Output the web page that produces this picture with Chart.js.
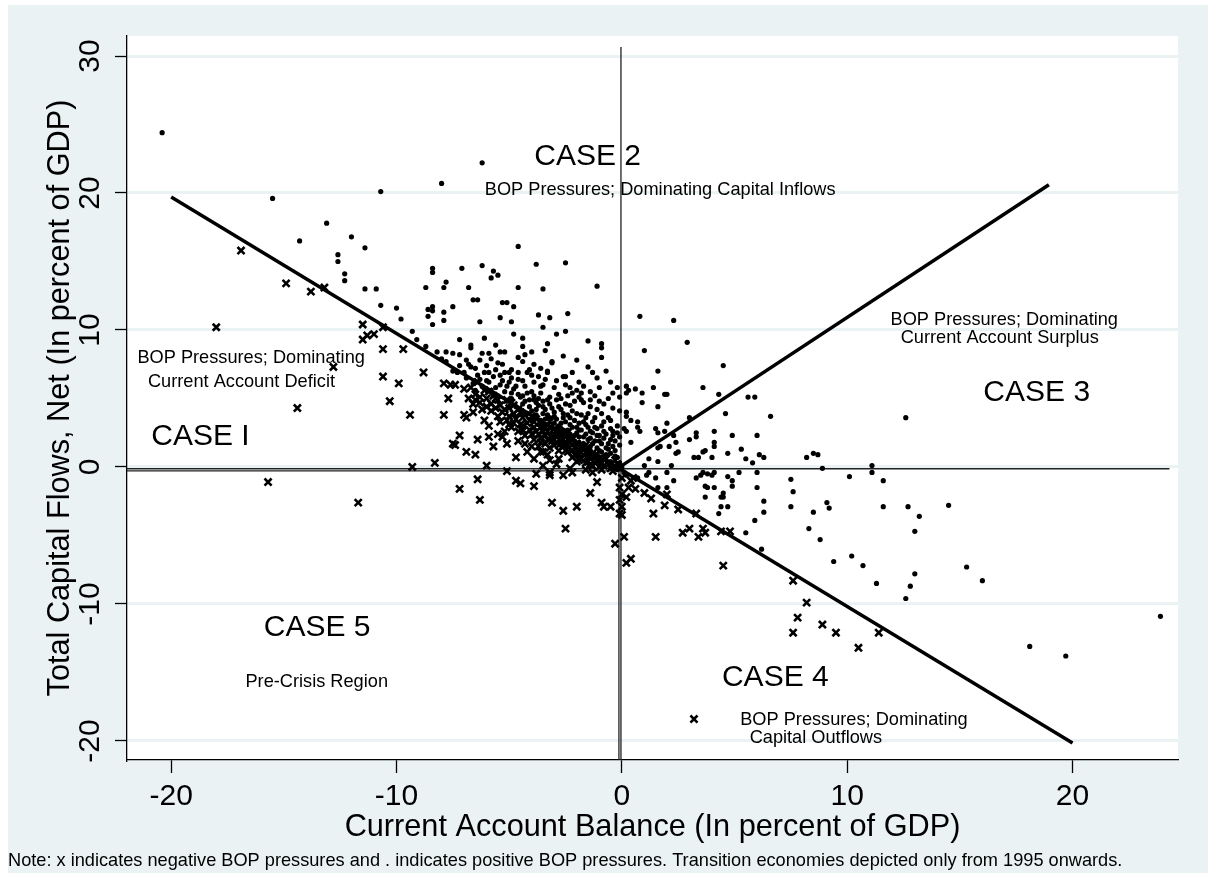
<!DOCTYPE html>
<html>
<head>
<meta charset="utf-8">
<script src="https://cdn.jsdelivr.net/npm/chart.js@4/dist/chart.umd.min.js"></script>
<style>
  html, body { margin: 0; padding: 0; background: #ffffff; }
  canvas { display: block; }
</style>
</head>
<body>
<canvas id="bop" width="1208" height="873"></canvas>
<script>
// Axis ticks
const xTicks = [-20, -10, 0, 10, 20];
const yTicks = [-20, -10, 0, 10, 20, 30];

// Observations with positive BOP pressures: [current account, capital flows], % of GDP
const positivePressure = [
  [-20.4,24.4],[-15.5,19.6],[-10.7,20.1],[-14.3,16.5],[-13.1,17.8],[-12.0,16.8],[-11.4,16.0],[-12.6,15.5],
  [-12.6,15.0],[-12.3,14.1],[-12.3,13.6],[-11.4,13.0],[-10.9,13.0],[-10.7,11.8],[-10.0,11.6],[-9.8,10.8],
  [-8.0,20.7],[-6.2,22.2],[-4.6,16.1],[-8.4,14.5],[-8.4,14.2],[-7.1,14.5],[-6.2,14.7],[-5.7,14.3],
  [-5.5,14.0],[-5.8,13.8],[-3.8,14.8],[-2.5,14.9],[-8.7,13.1],[-7.8,13.5],[-7.9,13.1],[-6.8,13.1],
  [-4.6,13.1],[-3.5,13.0],[-1.1,13.2],[-6.6,12.2],[-6.4,12.2],
  [-8.6,11.5],[-8.4,11.7],[-8.4,11.4],[-7.9,11.3],[-7.5,11.7],[-8.6,11.0],[-8.4,10.4],[-7.9,10.7],
  [-5.3,12.0],[-5.1,12.0],[-4.8,11.7],[-6.3,10.6],[-5.4,10.9],[-4.9,10.6],[-3.7,11.1],[-3.2,10.9],
  [-2.4,11.2],[-3.5,10.2],[-2.9,9.7],[-2.5,9.9],
  [-9.3,9.9],[-9.1,9.3],[-8.7,8.8],[-8.2,8.4],[-7.8,8.4],[-7.5,8.3],[-7.2,8.2],[-7.2,9.3],[-6.7,8.9],
  [-6.7,8.7],[-6.1,9.4],[-6.2,8.3],[-5.9,8.3],[-5.6,8.9],[-5.4,8.4],[-5.2,8.4],[-4.8,9.7],[-4.4,9.4],
  [-4.4,8.8],[-4.6,8.0],[-4.3,8.2],[-4.0,8.4],[-4.4,7.7],[-3.4,8.5],[-3.3,9.0],[-3.1,7.7],[-3.3,7.0],
  [-2.6,8.1],[-6.8,7.5],[-6.7,7.3],[-6.0,7.4],[-5.9,6.9],[-5.6,7.1],[-5.3,7.5],[-5.0,6.9],[-4.9,7.1],
  [-1.5,9.2],[-0.9,9.0],[-0.9,8.7],[-0.9,8.0],[-0.7,7.0],[-1.3,6.9],[-2.2,6.9],[-2.5,6.6],[-1.9,6.2],
  [-4.0,6.7],[-3.7,6.6],[-3.5,6.0],[-3.3,6.9],[-3.1,7.6],[-2.6,6.6],[-2.5,6.0],[-2.0,5.6],[-2.2,5.4],
  [-1.9,5.1],[-1.7,4.7],[-1.4,4.4],[-1.1,4.2],[-0.9,3.9],[-1.2,3.6],[-0.8,3.3],[-0.5,3.4],[-0.4,2.6],
  [-0.5,2.0],[-0.7,1.4],[-1.1,2.3],[-1.4,2.6],[-1.6,3.1],[-2.0,2.9],[-2.3,3.6],[-2.7,4.2],[-2.9,4.9],
  [-3.2,5.1],[-3.6,5.4],[-3.9,4.9],[-3.8,4.2],[-3.3,3.8],[-3.0,3.2],[-2.6,2.7],[-2.2,2.1],[-1.9,1.8],
  [-1.4,1.5],[-1.1,0.9],[-0.9,0.5],[-0.5,0.4],[-0.3,0.0],[-0.2,-0.2],[0.0,0.0],[0.1,-0.4],[0.2,-0.6],
  [-0.4,4.3],[-0.1,4.1],
  [-6.9,6.5],[-6.6,6.1],[-6.4,6.7],[-6.2,5.9],[-6.0,6.3],[-5.8,5.6],[-5.7,6.6],[-5.5,5.2],[-5.4,6.0],
  [-5.2,5.5],[-5.1,4.8],[-5.0,6.2],[-4.9,5.0],[-4.8,5.7],[-4.7,4.4],[-4.6,6.4],[-4.5,5.1],[-4.4,4.6],
  [-4.3,5.9],[-4.2,3.9],[-4.1,4.9],[-4.0,5.5],[-3.9,3.6],[-3.8,4.7],[-3.7,3.1],[-3.6,5.9],[-3.5,4.4],
  [-3.4,2.8],[-3.4,3.5],[-3.3,4.9],[-3.2,2.4],[-3.1,4.3],[-3.0,3.7],[-2.9,2.2],[-2.8,5.3],[-2.8,3.0],
  [-2.7,1.9],[-2.6,3.6],[-2.5,4.6],[-2.5,2.5],[-2.4,1.5],[-2.3,3.1],[-2.2,4.1],[-2.1,2.3],[-2.0,1.3],
  [-2.0,3.9],[-1.9,2.7],[-1.8,4.9],[-1.8,1.2],[-1.7,2.2],[-1.6,3.6],[-1.5,1.0],[-1.5,2.0],[-1.4,5.5],
  [-1.3,1.7],[-1.2,2.9],[-1.2,0.8],[-1.0,1.9],[-1.0,4.8],[-0.9,1.1],[-0.8,2.6],[-0.6,1.7],[-0.6,5.0],
  [-0.5,1.0],[-0.4,2.3],[-0.3,1.2],[-0.2,3.0],[-0.2,0.7],[-0.1,1.6],[-0.1,2.2],
  [-7.8,7.7],[-7.5,7.0],[-7.2,7.4],[-7.0,6.9],[-8.0,7.9],[-6.3,7.8],[-5.8,7.9],[-5.5,7.6],[-4.1,7.1],
  [-3.9,7.5],[-3.6,7.2],[-2.9,6.3],[-2.3,5.8],[-1.7,5.9],[-1.0,5.8],[-0.5,6.2],[-1.5,7.3],[-2.0,7.8],
  [-1.1,6.5],
  [-5.6,5.8],[-5.3,6.3],[-5.1,5.9],[-4.9,5.4],[-4.7,5.9],[-4.6,5.3],[-4.4,5.2],[-4.3,4.8],[-4.2,5.4],
  [-4.1,4.4],[-4.0,4.1],[-3.9,5.2],[-3.8,3.8],[-3.7,4.5],[-3.7,5.0],[-3.6,3.4],[-3.5,3.9],[-3.5,4.8],
  [-3.4,4.2],[-3.3,3.1],[-3.2,3.6],[-3.2,4.6],[-3.1,2.9],[-3.0,4.0],[-2.9,3.5],[-2.9,2.6],[-2.8,4.4],
  [-2.7,3.2],[-2.7,2.8],[-2.6,3.9],[-2.6,2.3],[-2.5,3.3],[-2.4,2.7],[-2.4,3.8],[-2.3,2.4],[-2.3,4.5],
  [-2.2,2.9],[-2.1,3.4],[-2.1,1.9],[-2.0,2.5],[-1.9,3.2],[-1.9,2.2],[-1.8,2.7],[-1.8,3.8],[-1.7,1.7],
  [-1.7,3.3],[-1.6,2.4],[-1.6,1.3],[-1.5,2.9],[-1.5,3.9],[-1.4,2.1],[-1.4,1.2],[-1.3,2.5],[-1.3,3.3],
  [-1.2,1.9],[-1.1,1.4],[-1.1,2.8],[-1.0,2.3],[-1.0,1.2],[-0.9,1.7],[-0.9,3.0],[-0.8,2.1],[-0.8,0.8],
  [-0.7,2.4],[-0.7,0.9],[-0.6,1.3],[-0.6,3.6],[-0.5,2.8],[-0.4,1.5],[-0.3,1.9],[-0.3,0.8],[-0.2,2.5],
  [-0.1,0.3],[-6.5,5.6],[-6.3,6.4],[-6.1,6.9],[-5.9,6.2],[-5.7,5.2],[-5.4,6.7],[-5.2,6.9],[-4.9,6.5],
  [-4.6,6.9],[-4.4,6.3],[-4.2,6.9],[-3.9,6.2],[-3.4,6.4],[-3.0,5.8],[-2.7,5.0],[-2.4,5.2],[-2.1,4.8],
  [-1.8,5.4],[-1.4,4.9],[-1.2,5.2],[-0.8,4.6],[-0.4,5.4],[-7.3,6.9],[-6.9,7.8],[-6.5,7.2],
  [0.8,11.0],[2.3,10.7],[2.9,9.1],[1.0,8.5],[1.6,7.0],[4.5,7.4],[3.6,5.8],[4.3,5.3],[5.6,5.1],[5.9,5.1],
  [6.6,3.7],[4.6,3.9],[1.6,4.4],[2.0,5.3],[0.9,5.4],[0.6,5.7],[0.2,5.9],[-0.2,5.8],[-0.1,5.1],[0.3,5.6],
  [1.4,5.8],[1.9,5.3],[0.2,5.4],[0.9,4.7],[0.2,3.7],[0.2,4.0],[0.1,2.8],[0.2,2.6],[0.4,1.8],[0.7,3.3],
  [0.7,2.9],[0.8,2.6],[0.4,3.4],[1.6,2.5],[1.5,2.8],[2.0,3.2],[1.9,2.6],[1.7,1.5],[1.6,1.4],[2.1,1.5],
  [2.4,1.8],[2.3,2.3],[2.5,1.1],[2.4,1.0],[1.0,0.1],[1.2,0.6],[1.6,0.4],[2.2,0.1],[1.1,-0.6],[1.2,-0.4],
  [1.5,-0.8],[2.0,-0.4],[2.0,-1.5],[1.6,-1.5],[2.3,-1.0],[0.7,-0.8],[3.3,2.5],[3.0,2.0],[3.0,3.6],
  [4.1,2.6],[4.1,1.8],[3.7,1.2],[3.2,0.7],[3.4,0.7],[3.6,-0.4],[4.1,-0.4],[3.7,-1.4],[3.8,-1.5],
  [4.1,-1.5],[4.5,-1.9],[4.0,0.7],[4.4,-2.9],[4.7,-2.9],[4.3,-3.4],[4.5,-2.2],
  [3.3,2.2],[3.6,1.1],[4.1,1.5],[4.7,1.0],[4.9,2.3],[5.3,1.3],[5.5,0.6],[5.8,0.3],[6.0,2.3],[6.1,0.9],
  [6.3,0.7],[6.0,-0.4],[5.2,-0.4],[4.7,-0.7],[3.3,-0.8],[3.5,-0.6],[3.8,-0.5],[4.0,-0.6],[3.7,-2.2],
  [4.4,-2.2],[4.9,-1.4],[6.3,-2.5],[6.3,-3.3],[5.9,-3.9],[6.2,-6.0],[7.5,-0.9],[7.6,-1.8],[7.5,-2.9],
  [5.5,-4.8],[4.9,-1.0],[6.0,-1.5],
  [12.6,3.6],[8.2,0.7],[8.5,1.0],[8.7,0.9],[8.9,-0.1],[11.1,0.1],[11.1,-0.4],[10.1,-0.7],[11.6,-1.0],
  [9.1,-2.6],[9.2,-3.0],[8.5,-3.3],[8.3,-4.5],[8.8,-5.3],[11.6,-2.9],[12.7,-2.9],[13.2,-3.6],[14.5,-2.8],
  [13.0,-4.7],[9.4,-6.9],[10.2,-6.5],[10.7,-7.2],[11.3,-8.5],[13.0,-7.8],[12.8,-8.7],[15.3,-7.3],
  [16.0,-8.3],[12.6,-9.6],[23.9,-10.9],[18.1,-13.1],[19.7,-13.8]
];

// Observations with negative BOP pressures
const negativePressure = [
  [-16.9,15.8],[-14.9,13.4],[-13.8,12.8],[-13.2,13.1],[-18.0,10.2],[-11.5,10.4],[-11.5,9.3],[-11.3,9.6],
  [-11.0,9.7],[-10.6,10.2],[-10.6,8.6],[-12.8,7.3],[-10.6,6.6],[-10.3,4.8],[-14.4,4.3],[-15.7,-1.1],
  [-11.7,-2.6],[-9.7,8.6],[-9.9,6.1],[-8.8,6.9],[-9.4,3.8],[-7.9,3.8],[-7.7,5.0],[-7.9,6.1],[-7.6,6.0],
  [-7.4,6.0],[-7.0,5.7],[-6.7,5.8],[-6.4,6.2],[-7.0,3.8],[-6.9,3.6],[-6.6,4.0],[-6.2,4.2],[-6.3,4.7],
  [-6.0,5.0],[-5.9,5.5],[-5.7,5.2],[-5.5,4.9],[-5.1,4.9],[-4.9,4.7],[-7.2,2.3],[-7.5,1.7],[-7.4,1.6],
  [-6.9,1.1],[-6.5,0.9],[-6.4,2.0],[-5.9,2.2],[-5.7,1.5],[-5.5,2.4],[-5.1,1.7],[-4.7,0.7],[-4.0,1.5],
  [-3.5,1.1],[-3.2,1.4],
  [-9.3,0.0],[-8.3,0.3],[-7.2,-1.6],[-6.4,-0.9],[-6.3,-2.4],[-6.0,0.1],[-5.1,-0.3],[-4.7,-1.0],
  [-4.5,-1.2],[-3.9,-1.4],[-3.8,-0.5],[-3.2,-0.4],[-3.5,0.1],[-3.1,-2.6],[-2.6,-3.2],[-2.5,-4.5],
  [-2.0,-2.9],[-2.6,-0.6],[-2.2,-0.4],[-1.4,-1.9],[-1.1,-1.1],[-0.9,-2.6],[-0.8,-2.9],[-0.5,-2.9],
  [-0.3,-5.6],[0.0,-2.9],[0.0,-3.5],[0.1,-5.1],[0.2,-7.0],[0.4,-6.7],[0.3,-1.5],[0.4,-1.0],[0.5,-0.8],
  [-3.2,0.5],[-3.6,1.1],[-2.0,0.4],[-3.2,-0.6],[-1.0,0.0],[-1.3,-0.4],[-0.1,-1.5],[-0.1,-2.4],[-0.1,-3.4],
  [0.2,-2.2],[0.0,-0.8],[0.0,-2.0],
  [1.4,-3.4],[1.5,-5.1],[1.9,-2.8],[2.5,-3.1],[2.7,-4.8],[3.0,-4.5],[3.4,-5.1],[3.7,-4.8],[3.6,-4.5],
  [4.4,-4.7],[4.8,-4.7],[4.5,-7.2],[7.6,-8.3],[3.3,-3.4],[2.0,-2.0],[7.8,-11.0],[7.6,-12.1],[8.2,-9.9],
  [8.9,-11.5],[9.5,-12.1],[10.5,-13.2],[11.4,-12.1],[3.2,-18.4],
  [-6.8,5.0],[-6.5,5.3],[-6.1,5.6],[-5.6,4.3],[-5.3,4.0],[-5.0,4.3],[-4.8,3.9],[-4.6,4.2],[-4.4,3.6],
  [-4.2,3.2],[-4.0,3.7],[-3.9,2.9],[-3.7,2.4],[-3.5,3.0],[-3.3,2.6],[-3.1,1.9],[-3.0,2.8],[-2.8,1.6],
  [-2.7,2.3],[-2.5,1.2],[-2.4,2.0],[-2.2,1.6],[-2.1,0.9],[-1.9,1.2],[-1.8,0.6],[-1.6,1.6],[-1.5,0.4],
  [-1.3,1.0],[-1.2,0.3],[-1.0,0.6],[-0.8,0.1],[-0.6,0.2],[-0.4,-0.3],[-0.3,0.5],[-4.3,2.3],[-4.9,2.9],
  [-5.4,3.3],[-5.9,3.0],[-4.6,1.9],[-3.9,0.6],[-2.9,0.2],[-2.3,-0.1],[-5.2,2.6],[-6.1,3.4],
  [0.6,-1.6],[1.0,-1.9],[1.3,-2.3],
  [-5.8,4.6],[-5.6,5.0],[-5.4,4.5],[-5.2,4.2],[-5.0,3.7],[-4.8,4.5],[-4.7,3.5],[-4.5,4.0],[-4.5,3.1],
  [-4.3,3.8],[-4.1,3.4],[-4.1,2.7],[-3.9,3.3],[-3.8,2.6],[-3.6,2.9],[-3.6,2.1],[-3.4,2.3],[-3.4,1.7],
  [-3.2,2.9],[-3.1,2.2],[-3.0,1.6],[-2.9,2.5],[-2.8,1.2],[-2.7,1.9],[-2.6,1.5],[-2.5,2.2],[-2.4,1.1],
  [-2.3,1.8],[-2.2,0.7],[-2.1,1.4],[-2.0,1.0],[-1.9,0.5],[-1.8,1.4],[-1.7,0.9],[-1.6,0.3],[-1.4,0.8],
  [-1.3,0.1],[-1.1,0.4],[-0.9,-0.2],[-0.7,0.6],[-0.5,-0.1],[-0.2,0.2],[-4.4,2.7],[-5.0,3.1],[-3.7,1.5],
  [-2.8,0.6],[-1.6,-0.2],[-6.3,5.1],[-6.6,4.6],[-5.3,2.2],[-4.2,1.1],[-3.3,0.9],
  [-4.8,3.2],[-4.4,3.0],[-4.0,2.4],[-3.8,3.5],[-3.6,1.8],[-3.5,2.6],[-3.3,2.0],[-3.2,3.3],[-3.0,2.4],
  [-2.9,1.8],[-2.8,2.7],[-2.6,2.0],[-2.5,1.6],[-2.4,2.5],[-2.2,1.2],[-2.0,1.7],[-1.9,0.9],[-1.7,1.3],
  [-1.5,0.8],[-1.4,0.2],[-1.2,0.7],[-0.9,0.3],[-5.5,3.7],[-5.1,3.4],[-4.6,2.6],[-4.3,1.7],[-3.9,2.0],
  [-5.8,4.1],[-6.0,4.4],[-6.5,4.9]
];

// Region boundaries (end points of each segment)
const boundaryDeficitOutflow = [[-20, 19.7], [20, -20.15]];
const boundarySurplus = [[0, 0.1], [18.95, 20.6]];

// Zero reference lines
const zeroLineH = [[-21.96, -0.13], [24.3, -0.13]];
const zeroLineHLeft = [[-21.96, -0.28], [0, -0.28]];
const zeroLineV = [[-0.04, 30.66], [-0.04, -21.39]];
const zeroLineVLow = [[-0.13, 0], [-0.13, -21.39]];

// Region labels: text with its anchor in data units
const regionLabels = [
  ['CASE 2', -1.52, 22.68, 'big'],
  ['BOP Pressures; Dominating Capital Inflows', 1.70, 20.23, 'small'],
  ['BOP Pressures; Dominating', 16.97, 10.74, 'small'],
  ['Current Account Surplus', 16.77, 9.40, 'small'],
  ['CASE 3', 18.41, 5.41, 'big'],
  ['BOP Pressures; Dominating', -16.45, 7.94, 'small'],
  ['Current Account Deficit', -16.88, 6.20, 'small'],
  ['CASE I', -18.70, 2.24, 'big'],
  ['CASE 5', -13.52, -11.74, 'big'],
  ['Pre-Crisis Region', -13.54, -15.67, 'small'],
  ['CASE 4', 6.81, -15.39, 'big'],
  ['BOP Pressures; Dominating', 10.30, -18.46, 'small'],
  ['Capital Outflows', 8.61, -19.80, 'small']
];

const noteText = 'Note: x indicates negative BOP pressures and . indicates positive BOP pressures. Transition economies depicted only from 1995 onwards.';

const FONT = "'Liberation Sans', Arial, Helvetica, sans-serif";
const toXY = arr => arr.map(([x, y]) => ({ x, y }));

const segment = (pts, width, color) => ({
  data: toXY(pts),
  showLine: true,
  borderColor: color,
  borderWidth: width,
  pointRadius: 0,
  pointHoverRadius: 0,
  fill: false,
  tension: 0
});

// Graph region, plot region, labels and note
const backdrop = {
  id: 'backdrop',
  beforeDraw(chart) {
    const { ctx, chartArea: a, width, height } = chart;
    ctx.save();
    ctx.fillStyle = '#ffffff';
    ctx.fillRect(0, 0, width, height);
    ctx.fillStyle = '#EAF2F3';
    ctx.fillRect(8, 5, width - 8, height - 5);
    ctx.fillStyle = '#ffffff';
    ctx.fillRect(a.left, a.top, a.right - a.left, a.bottom - a.top);
    ctx.restore();
  },
  afterDraw(chart) {
    const { ctx } = chart;
    const xs = chart.scales.x, ys = chart.scales.y;
    ctx.save();
    ctx.fillStyle = '#000';
    ctx.textAlign = 'center';
    ctx.textBaseline = 'middle';
    regionLabels.forEach(([text, x, y, kind]) => {
      ctx.font = (kind === 'big' ? '30px ' : '18.2px ') + FONT;
      ctx.fillText(text, xs.getPixelForValue(x), ys.getPixelForValue(y));
    });
    ctx.textAlign = 'left';
    ctx.textBaseline = 'alphabetic';
    ctx.font = '18.2px ' + FONT;
    ctx.fillText(noteText, 8, 866);
    ctx.restore();
  }
};

new Chart(document.getElementById('bop'), {
  type: 'scatter',
  data: {
    datasets: [
      Object.assign(segment(boundaryDeficitOutflow, 3.5, '#000'), { order: 0 }),
      Object.assign(segment(boundarySurplus, 3.5, '#000'), { order: 0 }),
      {
        data: toXY(positivePressure),
        pointStyle: 'circle',
        pointRadius: 2.6,
        pointBackgroundColor: '#000',
        pointBorderWidth: 0,
        order: 1
      },
      {
        data: toXY(negativePressure),
        pointStyle: 'crossRot',
        pointRadius: 5.0,
        pointBorderColor: '#000',
        pointBorderWidth: 2.6,
        order: 2
      },
      Object.assign(segment(zeroLineH, 1.3, '#222'), { order: 3 }),
      Object.assign(segment(zeroLineHLeft, 1.3, '#222'), { order: 3 }),
      Object.assign(segment(zeroLineV, 1.3, '#222'), { order: 3 }),
      Object.assign(segment(zeroLineVLow, 1.3, '#222'), { order: 3 })
    ]
  },
  options: {
    responsive: false,
    animation: false,
    devicePixelRatio: 1,
    layout: { padding: { top: 36, right: 30, left: 0, bottom: 0 } },
    plugins: { legend: { display: false }, tooltip: { enabled: false } },
    scales: {
      x: {
        type: 'linear',
        min: -21.96,
        max: 24.68,
        afterBuildTicks: s => { s.ticks = xTicks.map(v => ({ value: v })); },
        afterFit: s => { s.height = 113; },
        grid: { display: true, drawOnChartArea: false, drawTicks: true, tickLength: 13, tickColor: '#000', tickWidth: 1.3 },
        border: { display: true, color: '#000', width: 1.3 },
        ticks: { font: { family: FONT, size: 30 }, color: '#000', padding: 6, minRotation: 0, maxRotation: 0, autoSkip: false },
        title: {
          display: true,
          text: 'Current Account Balance (In percent of GDP)',
          color: '#000',
          font: { family: FONT, size: 30.7 },
          padding: { top: 0, bottom: 27 }
        }
      },
      y: {
        type: 'linear',
        min: -21.39,
        max: 31.46,
        afterBuildTicks: s => { s.ticks = yTicks.map(v => ({ value: v })); },
        afterFit: s => { s.width = 127; },
        grid: { display: true, drawOnChartArea: true, color: '#EAF2F3', lineWidth: 3, drawTicks: true, tickLength: 12, tickColor: '#000', tickWidth: 1.3 },
        border: { display: true, color: '#000', width: 1.3 },
        ticks: { font: { family: FONT, size: 30 }, color: '#000', padding: 3, minRotation: 90, maxRotation: 90, crossAlign: 'center', autoSkip: false },
        title: {
          display: true,
          text: 'Total Capital Flows, Net (In percent of GDP)',
          color: '#000',
          font: { family: FONT, size: 30.7 },
          padding: { top: 42, bottom: 0 }
        }
      }
    }
  },
  plugins: [backdrop]
});
</script>
</body>
</html>
